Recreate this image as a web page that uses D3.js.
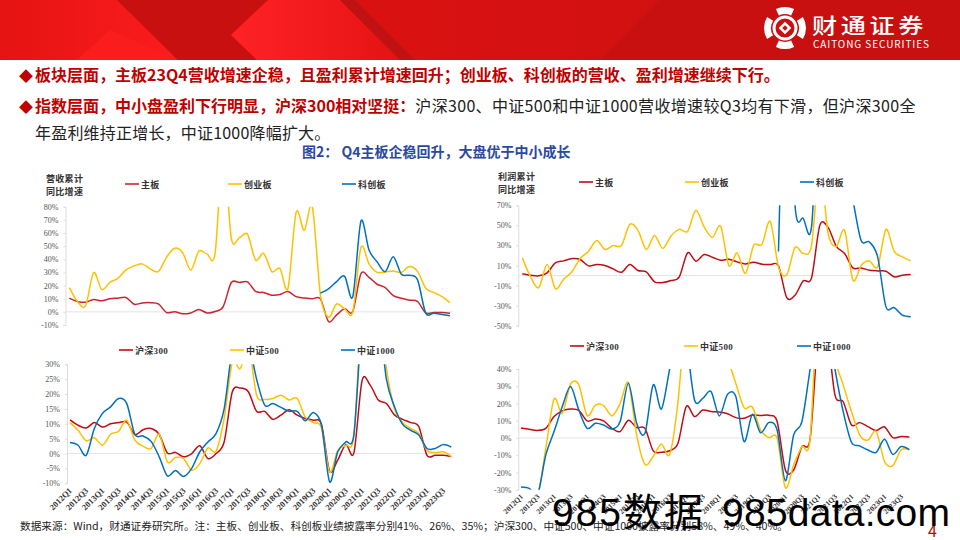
<!DOCTYPE html>
<html>
<head>
<meta charset='utf-8'>
<script src='https://d3js.org/d3.v7.min.js'></script>
<style>
html, body { margin: 0; padding: 0; background: #fff; }
svg { display: block; }
.sans { font-family: 'Noto Sans CJK SC', 'Liberation Sans', sans-serif; }
.serif { font-family: 'Liberation Serif', 'Noto Sans CJK SC', serif; }
</style>
</head>
<body>
<svg id='page' width='960' height='540'></svg>
<script>
// quarters on the shared x axis
const quarters = []
for (let y = 2012; y <= 2023; y++) for (let q = 1; q <= 4; q++) quarters.push(y + 'Q' + q)
const tickQuarters = quarters.filter((d, i) => i % 2 === 0)

// top left: revenue growth
const revMain = [10.4,7.9,7.3,9.4,8.4,9.9,10.4,10.9,5.8,6.8,7,6,-0.5,0,-1.5,-0.8,1.8,-0.8,0.3,4,22.3,22.3,22.8,15.5,14.7,12.7,13.2,15.4,11.6,10.6,9.9,9.9,-7.3,-2.3,2.3,0.3,29,26.3,21,18.5,12.4,10.4,8.9,7.9,-0.8,-0.5,-0.5,-1]
const revChinext = [18.5,8,4.5,30,17,22.5,25.5,32,35,36.5,32.7,30.7,41.5,48.4,45,31.7,46.3,44,44.5,125,56,56.5,59,39.5,44.5,30.6,33,18,75.7,62,80,13,-4,6,2.3,0,49,36.5,30,30.4,31,30,34.5,30.6,18,14.7,11.6,7]
const revStar = [null,null,null,null,null,null,null,null,null,null,null,null,null,null,null,null,null,null,null,null,null,null,null,null,null,null,null,null,null,null,null,14.2,17.5,23,27,11.6,69,47,38,30.6,42,28.6,27.8,24.3,-1,-1,-2,-3]

// top right: profit growth
const profitMain = [1.7,0.3,-0.3,2.7,12.6,14.6,17,16,9.6,11,10,6.6,3.3,11,5,3.7,-6.3,-7,-5,-1.3,22.6,14.3,21,18.3,15.3,16.3,13.6,11.6,13.3,11.3,11,9.6,-22,-19.6,-5.3,-2.3,50,48,29,22,7.6,7.6,5.3,4.6,4.3,-1.3,0.3,1]
const profitChinext = [17.6,-1.3,-12,11,-13,-3.7,3.7,17,24,35,26,30,30,51,45,26,40,27,39.5,46,44,65,48.5,38,49,10,22.6,2,30,31,54,8.6,0.7,28,22,30,110,42,29,45,-4.6,10,14.6,8.6,46,24,18.6,14.6]
const profitStar = [null,null,null,null,null,null,null,null,null,null,null,null,null,null,null,null,null,null,null,null,null,null,null,null,null,null,null,null,null,null,null,24,260,70,57,48.5,190,120,130,110,75,35,33.5,18.6,-31,-32,-39.5,-41]

// bottom left: index revenue growth
const revHs300 = [11.3,9.5,8.6,10.4,8.9,10,10.4,10.6,6.4,8,8.4,6.4,0.2,0.4,-1.1,0,2.6,-1.7,0,3.9,20.7,22,20.7,14.2,14.2,11.5,12.9,14.7,12.9,11.8,11.2,9.8,-5.9,-2.2,3,0.3,24.5,23,18,16.8,13,11.5,10.4,9,-0.6,-0.6,-0.6,-1]
const revCsi500 = [10.4,7.8,4.3,5.3,2.8,6.5,7.5,11.2,4.5,2.5,1.7,6.5,-2.8,-1.3,-1.7,-5.6,-3.4,1.9,0.8,11.8,30.5,28.6,36,19.6,18.2,18.5,19.6,18,18.5,12.3,10.4,8.6,-6.2,1.1,2.8,6.2,50,55,52,28.6,15,10.4,8.4,6.7,1.1,0.3,0.6,-1]
const revCsi1000 = [3.7,2.8,-0.6,8.4,13.5,15.7,18.5,16.8,6.4,5.9,4.1,-1.1,-7.5,-5.7,-7.7,-5,0.6,3.9,6.7,15,35,42,37.5,25,16.3,16.8,15.5,14.2,14.2,11,13.8,9.5,-9.5,0.6,3.9,6.5,45,55,48,25,15.7,9.8,7.8,6.2,1.7,1.7,3,2.2]

// bottom right: index profit growth
const profitHs300 = [5.8,5,4.4,5.6,12.4,15.7,16.8,16,9.9,11,9.9,5.6,3.7,10.3,6,5.6,-7.5,-8.3,-7.4,-3.1,18.2,12.4,16.2,15.3,15,14,11.8,11.4,13.3,13,13.2,9.5,-18.6,-18.6,-5,-0.2,60,62,25,21,7.5,8.9,6.6,4.3,6.4,0.2,0.8,0.6]
const profitCsi500 = [-50,-45,-35,-6,22.6,14.3,31.3,30.8,13,19,18.8,12.8,20,32,1.7,-15.3,-10.8,-3.5,-9.5,21,75,95,110,100,80,48,31.7,17.6,18,4.6,0.2,-0.2,-28.8,-15.7,-5,-0.2,90,100,48,30.8,15.3,1.7,-1.2,3.7,-13.7,-16,-7,-6.8]
const profitCsi1000 = [-28.4,-29.2,-33,-9.9,3.7,18.2,29.8,16.2,5.6,8.5,7.5,5.2,9.5,31.7,8.5,2.7,30.8,16.8,40,60,55,22,23,26.9,12.8,25.3,24,-2.1,13.7,3,9,4.6,-24.8,1.7,9.5,40,70,70,40,15.3,-2.5,-4.6,-7,-8.3,-0.8,-9.5,-5,-6.8]

const RED = '#c00d14', YELLOW = '#ffc000', BLUE = '#0070c0'
const svg = d3.select('#page')

// header banner
const defs = svg.append('defs')
function gradient(id, a, b, x1, x2) {
	const g = defs.append('linearGradient').attr('id', id).attr('x1', x1).attr('x2', x2)
	g.append('stop').attr('offset', 0).attr('stop-color', a)
	g.append('stop').attr('offset', 1).attr('stop-color', b)
}
gradient('gLeft', '#e51313', '#fb1c1e', 0, 1)
gradient('gMid', '#ff2226', '#e41313', 0, 1)
gradient('gRight', '#e51212', '#c91010', 0, 1)
const banner = svg.append('g')
banner.append('rect').attr('width', 960).attr('height', 60).attr('fill', 'url(#gRight)')
const poly = (pts, fill) => banner.append('polygon').attr('points', pts).attr('fill', fill)
poly('0,0 117,0 178,60 0,60', 'url(#gLeft)')
poly('110,30 178,60 77,60', '#fb1c1e')
poly('117,0 268,0 231,35 257,60 178,60', '#c91010')
poly('268,0 340,0 400,60 257,60 231,35', 'url(#gMid)')
poly('340,0 355,0 415,60 400,60', '#c01212')
poly('660,0 960,0 960,60 600,60', '#c91010')

// logo
const logo = svg.append('g').attr('transform', 'translate(785,28)')
const ringArc = d3.arc().innerRadius(14).outerRadius(21)
;[[-0.45, 0.45], [Math.PI / 2 - 0.55, Math.PI / 2 + 0.55], [Math.PI - 0.45, Math.PI + 0.45], [-Math.PI / 2 - 0.55, -Math.PI / 2 + 0.55]].forEach(a => {
	logo.append('path').attr('d', ringArc({ startAngle: a[0], endAngle: a[1] })).attr('fill', '#fff')
})
logo.append('circle').attr('r', 11).attr('fill', 'none').attr('stroke', '#fff').attr('stroke-width', 3)
logo.append('rect').attr('x', -4.5).attr('y', -4.5).attr('width', 9).attr('height', 9).attr('transform', 'rotate(45)').attr('fill', '#fff')
logo.append('rect').attr('x', -2).attr('y', -2).attr('width', 4).attr('height', 4).attr('transform', 'rotate(45)').attr('fill', '#c91010')
svg.append('text').attr('class', 'sans').attr('transform', 'translate(812,33) scale(1.2,1)').attr('fill', '#fff')
	.attr('font-size', 21).attr('font-weight', 500).attr('letter-spacing', 3).text('财通证券')
svg.append('text').attr('class', 'sans').attr('x', 813).attr('y', 48).attr('fill', '#fff')
	.attr('font-size', 10).attr('textLength', 116).text('CAITONG SECURITIES')

// body text
function textLine(x, y, parts, size, spacing) {
	const t = svg.append('text').attr('class', 'sans').attr('x', x).attr('y', y).attr('font-size', size)
	parts.forEach(p => t.append('tspan').attr('fill', p[1]).attr('font-weight', p[2] ? 700 : 400).attr('letter-spacing', p[3] || 0).text(p[0]))
}
const DARKRED = '#c00000'
svg.append('text').attr('class', 'sans').attr('x', 19).attr('y', 81).attr('font-size', 14).attr('fill', DARKRED).text('◆')
svg.append('text').attr('class', 'sans').attr('x', 19).attr('y', 112).attr('font-size', 14).attr('fill', DARKRED).text('◆')
textLine(35, 81, [['板块层面，主板23Q4营收增速企稳，且盈利累计增速回升；创业板、科创板的营收、盈利增速继续下行。', DARKRED, true]], 16)
textLine(35, 112, [['指数层面，中小盘盈利下行明显，沪深300相对坚挺：', DARKRED, true], ['沪深300、中证500和中证1000营收增速较Q3均有下滑，但沪深300全', '#222', false, 0.33]], 16)
textLine(35, 139, [['年盈利维持正增长，中证1000降幅扩大。', '#222', false, 0.2]], 16)
textLine(302, 157, [['图2： Q4主板企稳回升，大盘优于中小成长', '#2b4a9f', true]], 14)

// one chart panel
function panel(opt) {
	const x = d3.scalePoint().domain(quarters).range(opt.xRange)
	const y = d3.scaleLinear().domain(opt.yDomain).range(opt.yRange)
	const g = svg.append('g')
	const id = 'clip' + opt.id
	defs.append('clipPath').attr('id', id).append('rect')
		.attr('x', opt.xRange[0] - 3).attr('width', opt.xRange[1] - opt.xRange[0] + 6)
		.attr('y', opt.yRange[1]).attr('height', opt.yRange[0] - opt.yRange[1])

	const yAxis = d3.axisLeft(y).tickValues(opt.yTicks).tickFormat(d => d + '%').tickSize(2).tickPadding(5)
	const ya = g.append('g').attr('transform', 'translate(' + opt.axisX + ',0)').call(yAxis)
	ya.selectAll('path,line').attr('stroke', '#dcdcdc')
	ya.selectAll('text').attr('class', 'serif').attr('font-size', opt.tickSize).attr('fill', '#555')

	const xa = g.append('g').attr('transform', 'translate(0,' + y(0) + ')')
	xa.call(d3.axisBottom(x).tickValues(opt.labels ? tickQuarters : []).tickSize(0))
	xa.select('.domain').attr('stroke', '#e4e4e4').attr('stroke-width', 1)
		.attr('d', 'M' + opt.axisX + ',0H' + (opt.xRange[1] + 3))
	xa.selectAll('text').attr('class', 'serif').attr('font-size', opt.labelSize).attr('font-weight', 700).attr('fill', '#333')
		.attr('text-anchor', 'end').attr('dy', 0)
		.attr('transform', d => 'translate(0,' + (opt.labelY - y(0) - 2) + ') rotate(-45)')

	const line = d3.line().defined(d => d != null).x((d, i) => x(quarters[i])).y(d => y(d)).curve(d3.curveCardinal.tension(0.1))
	const lines = g.append('g').attr('clip-path', 'url(#' + id + ')')
	opt.series.forEach(s => {
		lines.append('path').attr('d', line(s.values)).attr('fill', 'none').attr('stroke', s.color).attr('stroke-width', 1.5)
	})

	// legend
	opt.series.forEach((s, i) => {
		const lx = opt.legendX[i]
		g.append('line').attr('x1', lx).attr('x2', lx + 14).attr('y1', opt.legendY).attr('y2', opt.legendY)
			.attr('stroke', s.color).attr('stroke-width', 1.6)
		g.append('text').attr('class', 'serif').attr('x', lx + 16).attr('y', opt.legendY + 3.5)
			.attr('font-size', 9).attr('font-weight', 700).attr('letter-spacing', 0.3).attr('fill', '#333').text(s.name)
	})
	if (opt.title) opt.title.forEach((t, i) => {
		g.append('text').attr('class', 'serif').attr('x', opt.titleX).attr('y', opt.titleY + i * 12.5)
			.attr('font-size', 9).attr('font-weight', 700).attr('letter-spacing', 0.3).attr('fill', '#333').text(t)
	})
}

panel({ id: 1, xRange: [69.3, 450], yDomain: [-10, 80], yRange: [325, 206.7], axisX: 65.5,
	yTicks: d3.range(-10, 81, 10), tickSize: 8, labels: false,
	series: [{ name: '主板', color: '#c8272f', values: revMain }, { name: '创业板', color: YELLOW, values: revChinext }, { name: '科创板', color: BLUE, values: revStar }],
	legendX: [125, 228, 342], legendY: 184, title: ['营收累计', '同比增速'], titleX: 46, titleY: 182 })

panel({ id: 2, xRange: [522.3, 910.7], yDomain: [-50, 70], yRange: [325.7, 205.3], axisX: 518.3,
	yTicks: d3.range(-50, 71, 20), tickSize: 8, labels: false,
	series: [{ name: '主板', color: RED, values: profitMain }, { name: '创业板', color: YELLOW, values: profitChinext }, { name: '科创板', color: BLUE, values: profitStar }],
	legendX: [579, 685, 800], legendY: 182, title: ['利润累计', '同比增速'], titleX: 498, titleY: 180 })

panel({ id: 3, xRange: [70, 451.3], yDomain: [-10, 30], yRange: [483.3, 364.3], axisX: 67,
	yTicks: d3.range(-10, 31, 5), tickSize: 8, labels: true, labelSize: 8.5, labelY: 491,
	series: [{ name: '沪深300', color: RED, values: revHs300 }, { name: '中证500', color: YELLOW, values: revCsi500 }, { name: '中证1000', color: BLUE, values: revCsi1000 }],
	legendX: [119, 230, 341], legendY: 350 })

panel({ id: 4, xRange: [521, 909.3], yDomain: [-30, 40], yRange: [489.7, 369], axisX: 518.3,
	yTicks: d3.range(-30, 41, 10), tickSize: 8, labels: true, labelSize: 7.5, labelY: 497,
	series: [{ name: '沪深300', color: RED, values: profitHs300 }, { name: '中证500', color: YELLOW, values: profitCsi500 }, { name: '中证1000', color: BLUE, values: profitCsi1000 }],
	legendX: [570, 684, 797], legendY: 346 })

// source note, page number, watermark
svg.append('text').attr('class', 'sans').attr('x', 20).attr('y', 529.5).attr('font-size', 10.7).attr('fill', '#222').attr('textLength', 768)
	.text('数据来源：Wind，财通证券研究所。注：主板、创业板、科创板业绩披露率分别41%、26%、35%；沪深300、中证500、中证1000披露率分别58%、49%、40%。')
svg.append('text').attr('class', 'sans').attr('x', 928).attr('y', 537).attr('font-size', 16).attr('fill', DARKRED).text('4')
const markFont = "'Liberation Sans', 'Noto Sans CJK SC', sans-serif"
svg.append('text').attr('x', 552).attr('y', 526).attr('font-size', 39).attr('fill', '#000')
	.attr('font-family', markFont).attr('textLength', 151).text('985数据')
svg.append('text').attr('x', 722).attr('y', 526).attr('font-size', 39).attr('fill', '#000')
	.attr('font-family', markFont).attr('textLength', 228).text('985data.com')
</script>
</body>
</html>
